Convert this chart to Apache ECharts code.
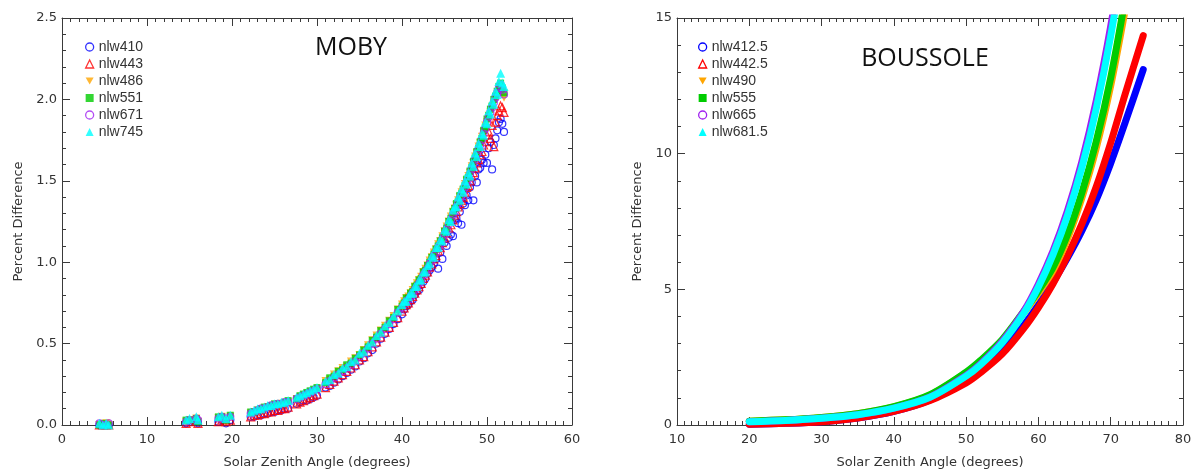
<!DOCTYPE html>
<html><head><meta charset="utf-8">
<script src="https://cdn.jsdelivr.net/npm/echarts@6/dist/echarts.min.js"></script>
<style>html,body{margin:0;padding:0;background:#fff}#c{width:1194px;height:470px}</style>
</head><body><div id="c"></div>
<script>
// ---------- MOBY (left panel) ----------
const mobySZA = [4.4,4.8,5.2,5.5,14.6,15.0,15.8,16.0,18.4,18.8,19.3,19.8,
  22.2,22.6,23.0,23.4,23.8,24.2,24.6,25.0,25.4,25.8,26.2,26.6,
  27.6,28.0,28.4,28.8,29.2,29.6,30.0,
  31.0,31.5,32.0,32.5,33.0,33.5,34.0,34.5,35.0,35.5,36.0,36.5,37.0,37.5,38.0,38.5,39.0,39.5,40.0,
  40.25,40.5,40.75,41.0,41.25,41.5,41.75,42.0,42.25,42.5,42.75,43.0,43.25,43.5,43.75,44.0,44.25,44.5,44.75,45.0,45.25,45.5,45.75,46.0,
  46.2,46.4,46.6,46.8,47.0,47.2,47.4,47.6,47.8,48.0,48.2,48.4,48.6,48.8,49.0,49.2,49.4,49.6,49.8,50.0,50.2,50.4,50.6,50.8,51.0,51.2,51.4,51.6,51.8,52.0];
const nlw410 = [0.00,0.00,0.00,0.00,0.01,0.02,0.02,0.01,0.02,0.03,0.01,0.03,
  0.05,0.05,0.06,0.06,0.07,0.07,0.08,0.08,0.09,0.09,0.10,0.10,
  0.13,0.14,0.15,0.15,0.16,0.17,0.18,
  0.23,0.24,0.26,0.28,0.30,0.32,0.34,0.36,0.39,0.41,0.44,0.46,0.50,0.53,0.56,0.59,0.62,0.65,0.68,
  0.71,0.73,0.74,0.76,0.77,0.80,0.82,0.83,0.86,0.88,0.90,0.93,0.95,0.97,0.99,1.02,0.96,1.06,1.02,1.12,1.10,1.15,1.17,1.16,
  1.26,1.27,1.24,1.31,1.23,1.36,1.35,1.41,1.38,1.46,1.49,1.38,1.53,1.49,1.57,1.58,1.63,1.61,1.66,1.61,1.70,1.74,1.57,1.72,1.76,1.81,1.86,1.88,1.85,1.80];
const nlw443 = [0.00,0.00,0.00,0.00,0.01,0.02,0.03,0.01,0.02,0.03,0.02,0.03,
  0.05,0.06,0.06,0.07,0.07,0.08,0.08,0.09,0.09,0.10,0.10,0.11,
  0.13,0.14,0.15,0.16,0.17,0.18,0.19,
  0.23,0.25,0.27,0.29,0.31,0.33,0.35,0.37,0.40,0.42,0.45,0.48,0.51,0.54,0.57,0.60,0.63,0.66,0.70,
  0.72,0.74,0.75,0.77,0.79,0.81,0.83,0.85,0.87,0.90,0.92,0.94,0.97,0.99,1.02,1.04,1.07,1.09,1.12,1.15,1.18,1.21,1.23,1.26,
  1.29,1.31,1.34,1.36,1.38,1.40,1.43,1.46,1.47,1.50,1.53,1.55,1.58,1.61,1.63,1.66,1.68,1.72,1.74,1.78,1.80,1.76,1.84,1.71,1.86,1.90,1.93,1.96,1.95,1.92];
const nlw486 = [0.00,0.00,0.01,0.00,0.02,0.03,0.04,0.02,0.04,0.05,0.03,0.05,
  0.07,0.08,0.09,0.09,0.10,0.11,0.11,0.12,0.12,0.13,0.13,0.14,
  0.16,0.17,0.18,0.19,0.20,0.21,0.22,
  0.27,0.28,0.31,0.33,0.35,0.36,0.39,0.41,0.43,0.46,0.49,0.52,0.55,0.58,0.61,0.64,0.67,0.71,0.74,
  0.76,0.78,0.79,0.81,0.83,0.85,0.87,0.89,0.91,0.94,0.96,0.98,1.01,1.03,1.06,1.08,1.11,1.13,1.16,1.19,1.22,1.25,1.28,1.31,
  1.33,1.35,1.38,1.40,1.43,1.44,1.48,1.50,1.53,1.55,1.59,1.61,1.65,1.67,1.71,1.73,1.77,1.80,1.84,1.86,1.90,1.92,1.95,1.97,2.00,2.02,2.04,2.06,2.04,2.01];
const nlw551 = [0.00,0.01,0.00,0.00,0.03,0.03,0.04,0.02,0.05,0.05,0.03,0.06,
  0.08,0.08,0.09,0.10,0.11,0.11,0.12,0.13,0.13,0.13,0.14,0.15,
  0.16,0.18,0.19,0.20,0.21,0.22,0.23,
  0.26,0.29,0.30,0.33,0.34,0.37,0.38,0.41,0.43,0.46,0.48,0.52,0.54,0.58,0.60,0.64,0.66,0.71,0.73,
  0.75,0.78,0.78,0.81,0.82,0.85,0.86,0.89,0.90,0.94,0.95,0.98,1.00,1.03,1.05,1.08,1.10,1.13,1.15,1.19,1.21,1.25,1.27,1.31,
  1.33,1.36,1.37,1.41,1.42,1.45,1.47,1.51,1.52,1.56,1.58,1.62,1.64,1.68,1.70,1.74,1.76,1.81,1.83,1.88,1.90,1.94,1.96,2.00,2.02,2.05,2.08,2.10,2.07,2.04];
const nlw671 = [0.01,0.00,0.00,0.01,0.02,0.03,0.04,0.03,0.04,0.05,0.04,0.05,
  0.07,0.08,0.09,0.10,0.10,0.11,0.12,0.12,0.13,0.13,0.14,0.14,
  0.16,0.17,0.18,0.19,0.20,0.21,0.22,
  0.25,0.27,0.29,0.31,0.33,0.35,0.37,0.39,0.42,0.44,0.47,0.50,0.53,0.56,0.59,0.62,0.65,0.69,0.72,
  0.74,0.76,0.77,0.79,0.81,0.83,0.85,0.87,0.89,0.92,0.94,0.96,0.99,1.01,1.04,1.06,1.09,1.11,1.14,1.17,1.20,1.23,1.26,1.29,
  1.31,1.34,1.36,1.39,1.41,1.43,1.46,1.49,1.51,1.54,1.57,1.60,1.63,1.66,1.69,1.72,1.75,1.79,1.82,1.86,1.89,1.92,1.95,1.98,2.01,2.04,2.07,2.09,2.06,2.03];
const nlw745 = [0.01,0.00,0.01,0.00,0.03,0.04,0.05,0.03,0.05,0.06,0.04,0.06,
  0.08,0.09,0.10,0.10,0.11,0.12,0.12,0.13,0.13,0.14,0.14,0.15,
  0.17,0.18,0.19,0.20,0.21,0.22,0.23,
  0.27,0.28,0.31,0.32,0.35,0.36,0.39,0.40,0.44,0.45,0.49,0.51,0.55,0.57,0.61,0.63,0.67,0.70,0.74,
  0.76,0.76,0.79,0.81,0.81,0.85,0.85,0.89,0.89,0.94,0.94,0.98,0.99,1.04,1.03,1.09,1.09,1.14,1.13,1.20,1.19,1.26,1.25,1.32,
  1.34,1.34,1.40,1.38,1.45,1.43,1.50,1.48,1.55,1.53,1.61,1.59,1.67,1.65,1.73,1.71,1.79,1.78,1.86,1.85,1.93,1.91,1.99,1.97,2.05,2.03,2.11,2.16,2.10,2.08];

// ---------- BOUSSOLE (right panel) ----------
const bousSZA = [20,25,30,35,40,45,50,52,55,58,60,62,64,66,68,70,72,74.5];
const nlw412_5 = [0.03,0.06,0.12,0.26,0.50,0.92,1.60,2.00,2.70,3.68,4.42,5.25,6.15,7.15,8.30,9.65,11.15,13.10];
const nlw442_5 = [0.03,0.06,0.12,0.26,0.50,0.90,1.55,1.93,2.62,3.57,4.33,5.20,6.22,7.40,8.78,10.40,12.20,14.35];
const nlw490   = [0.14,0.19,0.28,0.42,0.67,1.10,1.92,2.34,3.10,4.13,4.86,5.68,6.85,8.36,10.20,12.50,15.30,null];
const nlw555   = [0.14,0.19,0.28,0.42,0.68,1.12,1.95,2.38,3.15,4.20,4.95,5.80,7.00,8.55,10.45,12.80,15.70,null];
const nlw665   = [0.12,0.17,0.25,0.38,0.62,1.03,1.83,2.26,3.09,4.21,5.20,6.40,7.88,9.70,11.95,14.70,18.00,null];
const nlw681_5 = [0.12,0.17,0.25,0.38,0.62,1.02,1.80,2.22,3.03,4.13,5.09,6.27,7.71,9.48,11.66,14.34,17.60,null];

const leftXTicks = [0,10,20,30,40,50,60];
const leftYTicks = [0,0.5,1,1.5,2,2.5];
const rightXTicks = [10,20,30,40,50,60,70,80];
const rightYTicks = [0,5,10,15];

const C = {blue:'#0000ff', red:'#ff0000', orange:'#ffa500', green:'#00cc00', purple:'#a020f0', cyan:'#00ffff'};
const axisColor = '#3a3a3a';
const tickFont = {fontFamily:'DejaVu Sans', fontSize:13, color:'#333'};
const nameFont = {fontFamily:'DejaVu Sans', fontSize:13, color:'#333'};

function pairs(xs, ys){ return xs.map((x,i)=>[x, ys[i]]); }

function xAxis(g, ticks, pos, main, name){
  return {type:'value', gridIndex:g, min:ticks[0], max:ticks[ticks.length-1], interval:ticks[1]-ticks[0],
    position:pos,
    axisLine:{show:true, onZero:false, lineStyle:{color:axisColor, width:1}},
    axisTick:{show:true, inside:true, length:8, lineStyle:{color:axisColor}},
    minorTick:{show:true, splitNumber:10, length:4, lineStyle:{color:axisColor}},
    splitLine:{show:false}, minorSplitLine:{show:false},
    axisLabel:{show:main, margin:8, showMinLabel:true, showMaxLabel:true, ...tickFont},
    name: main ? name : '', nameLocation:'middle', nameGap:31, nameTextStyle:nameFont
  };
}
function yAxis(g, ticks, pos, main, fmt, gap){
  return {type:'value', gridIndex:g, min:ticks[0], max:ticks[ticks.length-1], interval:ticks[1]-ticks[0],
    position:pos,
    axisLine:{show:true, onZero:false, lineStyle:{color:axisColor, width:1}},
    axisTick:{show:true, inside:true, length:8, lineStyle:{color:axisColor}},
    minorTick:{show:true, splitNumber:5, length:4, lineStyle:{color:axisColor}},
    splitLine:{show:false}, minorSplitLine:{show:false},
    axisLabel:{show:main, margin:5, formatter:fmt, showMinLabel:true, showMaxLabel:true, ...tickFont},
    name: main ? 'Percent Difference' : '', nameLocation:'middle', nameGap:gap, nameRotate:90, nameTextStyle:nameFont
  };
}

const mobySeries = [
  {name:'nlw410', data:nlw410, symbol:'circle', size:7, color:C.blue, hollow:true},
  {name:'nlw443', data:nlw443, symbol:'triangle', size:8, color:C.red, hollow:true},
  {name:'nlw486', data:nlw486, symbol:'triangle', size:8, color:C.orange, rotate:180},
  {name:'nlw551', data:nlw551, symbol:'rect', size:7, color:C.green},
  {name:'nlw671', data:nlw671, symbol:'circle', size:7, color:C.purple, hollow:true},
  {name:'nlw745', data:nlw745, symbol:'triangle', size:9, color:C.cyan}
];
const bousSeries = [
  {name:'nlw412.5', data:nlw412_5, color:C.blue},
  {name:'nlw442.5', data:nlw442_5, color:C.red},
  {name:'nlw490', data:nlw490, color:C.orange},
  {name:'nlw555', data:nlw555, color:C.green},
  {name:'nlw665', data:nlw665, color:C.purple},
  {name:'nlw681.5', data:nlw681_5, color:C.cyan}
];
const downTri = 'path://M0,0L10,0L5,9Z';
const legendIcons = [
  {icon:'circle', hollow:true}, {icon:'triangle', hollow:true}, {icon:downTri},
  {icon:'rect'}, {icon:'circle', hollow:true}, {icon:'triangle'}
];
function legendData(list){
  return list.map((s,i)=>{
    const li = legendIcons[i];
    return {name:s.name, icon:li.icon,
      itemStyle: li.hollow ? {color:'#fff', borderColor:s.color, borderWidth:1.3} : {color:s.color, borderWidth:0}};
  });
}
const legendCommon = {orient:'vertical', top:40, itemGap:3, itemWidth:8, itemHeight:8, padding:0,
  textStyle:{fontFamily:'Liberation Sans', fontSize:14, color:'#333', lineHeight:14}, selectedMode:false};

const option = {
  backgroundColor:'#fff',
  animation:false,
  grid:[
    {left:62, right:622, top:18, bottom:45, containLabel:false, outerBoundsMode:'none'},
    {left:677, right:11, top:18, bottom:45, containLabel:false, outerBoundsMode:'none'}
  ],
  xAxis:[
    xAxis(0, leftXTicks, 'bottom', true, 'Solar Zenith Angle (degrees)'),
    xAxis(0, leftXTicks, 'top', false, ''),
    xAxis(1, rightXTicks, 'bottom', true, 'Solar Zenith Angle (degrees)'),
    xAxis(1, rightXTicks, 'top', false, '')
  ],
  yAxis:[
    yAxis(0, leftYTicks, 'left', true, v=>v.toFixed(1), 37),
    yAxis(0, leftYTicks, 'right', false, null, 0),
    yAxis(1, rightYTicks, 'left', true, v=>String(v), 33),
    yAxis(1, rightYTicks, 'right', false, null, 0)
  ],
  legend:[
    Object.assign({left:85, data:legendData(mobySeries)}, legendCommon),
    Object.assign({left:698, data:legendData(bousSeries)}, legendCommon)
  ],
  graphic:[
    {type:'text', x:351, y:48, style:{text:'MOBY', fontFamily:'Open Sans', fontSize:25, fill:'#111', align:'center', verticalAlign:'middle'}},
    {type:'text', x:925, y:59, style:{text:'BOUSSOLE', fontFamily:'Open Sans', fontSize:25, fill:'#111', align:'center', verticalAlign:'middle'}}
  ],
  series:[
    ...mobySeries.map(s=>({
      type:'scatter', name:s.name, xAxisIndex:0, yAxisIndex:0,
      data:pairs(mobySZA, s.data), symbol:s.symbol, symbolSize:s.size, symbolRotate:s.rotate||0,
      itemStyle: s.hollow ? {color:'rgba(255,255,255,0)', borderColor:s.color, borderWidth:1.2} : {color:s.color},
      emphasis:{disabled:true}, z:2
    })),
    ...bousSeries.map(s=>({
      type:'line', name:s.name, xAxisIndex:2, yAxisIndex:2,
      data:pairs(bousSZA, s.data), smooth:0.3, showSymbol:false, clip:true,
      lineStyle:{color:s.color, width:7, cap:'round'}, itemStyle:{color:s.color},
      emphasis:{disabled:true}, z:2
    }))
  ]
};
const chart = echarts.init(document.getElementById('c'), null, {renderer:'canvas'});
chart.setOption(option);
</script></body></html>
